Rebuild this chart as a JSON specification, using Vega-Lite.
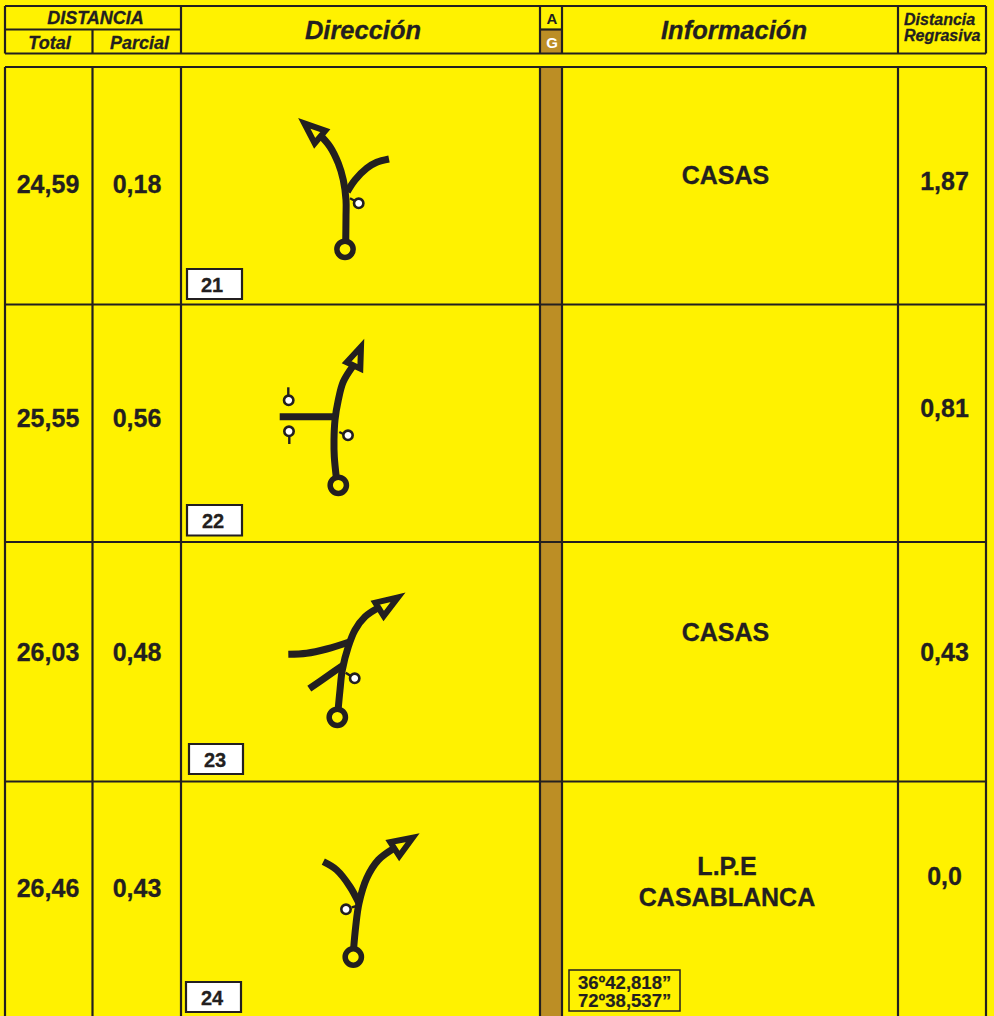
{
"$schema":"https://vega.github.io/schema/vega-lite/v6.json",
"width":994,"height":1016,"padding":0,
"autosize":"none",
"background":"#FFF200",
"config":{"view":{"stroke":null},"font":"Liberation Sans"},
"datasets":{
"bands":[{"x":540,"x2":562,"y":30,"y2":53},{"x":540,"x2":562,"y":67,"y2":1016}],
"grid":[
{"x":5,"x2":986,"y":6,"y2":6},{"x":5,"x2":986,"y":53.5,"y2":53.5},{"x":5,"x2":181,"y":29.5,"y2":29.5},{"x":540,"x2":562,"y":29.5,"y2":29.5},
{"x":5,"x2":5,"y":6,"y2":53.5},{"x":92.5,"x2":92.5,"y":29.5,"y2":53.5},{"x":181,"x2":181,"y":6,"y2":53.5},{"x":540,"x2":540,"y":6,"y2":53.5},{"x":562,"x2":562,"y":6,"y2":53.5},{"x":898,"x2":898,"y":6,"y2":53.5},{"x":986,"x2":986,"y":6,"y2":53.5},
{"x":5,"x2":986,"y":67,"y2":67},{"x":5,"x2":986,"y":304.5,"y2":304.5},{"x":5,"x2":986,"y":542,"y2":542},{"x":5,"x2":986,"y":781.5,"y2":781.5},
{"x":5,"x2":5,"y":67,"y2":1016},{"x":92.5,"x2":92.5,"y":67,"y2":1016},{"x":181,"x2":181,"y":67,"y2":1016},{"x":540,"x2":540,"y":67,"y2":1016},{"x":562,"x2":562,"y":67,"y2":1016},{"x":898,"x2":898,"y":67,"y2":1016},{"x":986,"x2":986,"y":67,"y2":1016}
],
"numberBoxes":[{"x":187,"x2":242,"y":269,"y2":299},{"x":187,"x2":242,"y":505,"y2":535.5},{"x":189,"x2":243,"y":744,"y2":774},{"x":186,"x2":241,"y":982,"y2":1012}],
"coordBox":[{"x":569,"x2":680,"y":970,"y2":1011}],
"roads":[
{"id":"r1m","i":0,"x":345.7,"y":243},{"id":"r1m","i":1,"x":346,"y":216.7},{"id":"r1m","i":2,"x":346,"y":200},{"id":"r1m","i":3,"x":343.3,"y":180},{"id":"r1m","i":4,"x":338.3,"y":163.3},{"id":"r1m","i":5,"x":330,"y":146.7},{"id":"r1m","i":6,"x":320,"y":135},
{"id":"r1b","i":0,"x":347.3,"y":191.7},{"id":"r1b","i":1,"x":355,"y":180},{"id":"r1b","i":2,"x":366.7,"y":168.3},{"id":"r1b","i":3,"x":376.7,"y":162.3},{"id":"r1b","i":4,"x":389,"y":159},
{"id":"r2m","i":0,"x":336.5,"y":479},{"id":"r2m","i":1,"x":334.3,"y":456.7},{"id":"r2m","i":2,"x":334,"y":440},{"id":"r2m","i":3,"x":335,"y":420},{"id":"r2m","i":4,"x":338.3,"y":400},{"id":"r2m","i":5,"x":343.3,"y":381.7},{"id":"r2m","i":6,"x":353,"y":366},
{"id":"r2b","i":0,"x":279.7,"y":416.7},{"id":"r2b","i":1,"x":335,"y":416.7},
{"id":"r3m","i":0,"x":338,"y":711},{"id":"r3m","i":1,"x":340,"y":690},{"id":"r3m","i":2,"x":342.3,"y":670},{"id":"r3m","i":3,"x":348.3,"y":646.7},{"id":"r3m","i":4,"x":355,"y":630},{"id":"r3m","i":5,"x":365,"y":616.7},{"id":"r3m","i":6,"x":378,"y":608},
{"id":"r3a","i":0,"x":288.3,"y":654.3},{"id":"r3a","i":1,"x":306.7,"y":653.3},{"id":"r3a","i":2,"x":326.7,"y":649},{"id":"r3a","i":3,"x":350,"y":641.7},
{"id":"r3b","i":0,"x":309.3,"y":688.7},{"id":"r3b","i":1,"x":326.7,"y":676.7},{"id":"r3b","i":2,"x":343.3,"y":665},
{"id":"r4m","i":0,"x":353.5,"y":950},{"id":"r4m","i":1,"x":355.7,"y":926.7},{"id":"r4m","i":2,"x":359,"y":903.3},{"id":"r4m","i":3,"x":366.7,"y":878.3},{"id":"r4m","i":4,"x":378.3,"y":860},{"id":"r4m","i":5,"x":394.5,"y":848},
{"id":"r4b","i":0,"x":323.3,"y":861.7},{"id":"r4b","i":1,"x":336.7,"y":870},{"id":"r4b","i":2,"x":350,"y":886.7},{"id":"r4b","i":3,"x":359,"y":903.3}
],
"arrows":[
{"id":"a1","i":0,"x":304.3,"y":123.3},{"id":"a1","i":1,"x":325.3,"y":130.7},{"id":"a1","i":2,"x":314.7,"y":143.3},
{"id":"a2","i":0,"x":361,"y":346.7},{"id":"a2","i":1,"x":346.7,"y":362.3},{"id":"a2","i":2,"x":360.3,"y":368.7},
{"id":"a3","i":0,"x":398,"y":597.3},{"id":"a3","i":1,"x":375.3,"y":602.7},{"id":"a3","i":2,"x":383.7,"y":616},
{"id":"a4","i":0,"x":412.7,"y":837.7},{"id":"a4","i":1,"x":390.3,"y":842},{"id":"a4","i":2,"x":399.3,"y":856}
],
"stems":[
{"id":"s1","i":0,"x":350,"y":198.3},{"id":"s1","i":1,"x":355,"y":201},
{"id":"s2a","i":0,"x":288.3,"y":387.3},{"id":"s2a","i":1,"x":288.3,"y":396},
{"id":"s2b","i":0,"x":289.3,"y":436.7},{"id":"s2b","i":1,"x":289.3,"y":444},
{"id":"s2c","i":0,"x":339.3,"y":432},{"id":"s2c","i":1,"x":343.3,"y":434},
{"id":"s3","i":0,"x":345.7,"y":672.7},{"id":"s3","i":1,"x":350.7,"y":676},
{"id":"s4","i":0,"x":351.7,"y":907.3},{"id":"s4","i":1,"x":356.7,"y":906}
],
"starts":[{"x":345,"y":249.3},{"x":338.3,"y":485.3},{"x":337.3,"y":717.3},{"x":353.3,"y":957}],
"flags":[{"x":358.7,"y":203.3},{"x":288.7,"y":400.3},{"x":289,"y":431.3},{"x":348,"y":435.3},{"x":354.7,"y":678.3},{"x":346,"y":909.3}],
"big":[
{"t":"24,59","x":48,"y":193},{"t":"0,18","x":137,"y":193},{"t":"CASAS","x":725.5,"y":184},{"t":"1,87","x":944.5,"y":190},
{"t":"25,55","x":48,"y":427},{"t":"0,56","x":137,"y":427},{"t":"0,81","x":944.5,"y":417},
{"t":"26,03","x":48,"y":661},{"t":"0,48","x":137,"y":661},{"t":"CASAS","x":725.5,"y":641},{"t":"0,43","x":944.5,"y":661},
{"t":"26,46","x":48,"y":897},{"t":"0,43","x":137,"y":897},{"t":"L.P.E","x":727,"y":875},{"t":"CASABLANCA","x":727,"y":906},{"t":"0,0","x":944.5,"y":885}
],
"heads":[{"t":"Dirección","x":363,"y":39},{"t":"Información","x":734,"y":39}],
"subheads":[{"t":"DISTANCIA","x":95.5,"y":24},{"t":"Total","x":49.5,"y":49},{"t":"Parcial","x":139.5,"y":49}],
"regres":[{"t":"Distancia","x":904,"y":25},{"t":"Regrasiva","x":904,"y":41}],
"boxNums":[{"t":"21","x":212,"y":292},{"t":"22","x":213,"y":528},{"t":"23","x":215,"y":767},{"t":"24","x":212,"y":1005}],
"ag":[{"t":"A","x":552,"y":24,"c":"a"},{"t":"G","x":552,"y":48,"c":"g"}],
"coords":[{"t":"36º42,818”","x":578,"y":989},{"t":"72º38,537”","x":578,"y":1007}]
},
"encoding":{
"x":{"field":"x","type":"quantitative","axis":null,"scale":{"domain":[0,994],"nice":false,"zero":false}},
"y":{"field":"y","type":"quantitative","axis":null,"scale":{"domain":[1016,0],"nice":false,"zero":false}}
},
"layer":[
{"data":{"name":"bands"},"mark":{"type":"rect","fill":"#BC8E25"},"encoding":{"x2":{"field":"x2"},"y2":{"field":"y2"}}},
{"data":{"name":"grid"},"mark":{"type":"rule","stroke":"#231F20","strokeWidth":2.2},"encoding":{"x2":{"field":"x2"},"y2":{"field":"y2"}}},
{"data":{"name":"numberBoxes"},"mark":{"type":"rect","fill":"#FFFFFF","stroke":"#231F20","strokeWidth":2.2},"encoding":{"x2":{"field":"x2"},"y2":{"field":"y2"}}},
{"data":{"name":"coordBox"},"mark":{"type":"rect","fill":"#FFF200","stroke":"#231F20","strokeWidth":1.5},"encoding":{"x2":{"field":"x2"},"y2":{"field":"y2"}}},
{"data":{"name":"stems"},"mark":{"type":"line","stroke":"#231F20","strokeWidth":2.4},"encoding":{"detail":{"field":"id"},"order":{"field":"i"}}},
{"data":{"name":"roads"},"mark":{"type":"line","stroke":"#231F20","strokeWidth":7,"interpolate":"catmull-rom"},"encoding":{"detail":{"field":"id"},"order":{"field":"i"}}},
{"data":{"name":"arrows"},"mark":{"type":"line","stroke":"#231F20","strokeWidth":6,"interpolate":"linear-closed","strokeJoin":"miter","strokeMiterLimit":10},"encoding":{"detail":{"field":"id"},"order":{"field":"i"}}},
{"data":{"name":"starts"},"mark":{"type":"point","shape":"circle","size":265,"filled":true,"fill":"#FFF200","stroke":"#231F20","strokeWidth":5.5,"opacity":1}},
{"data":{"name":"flags"},"mark":{"type":"point","shape":"circle","size":88,"filled":true,"fill":"#FFFFFF","stroke":"#231F20","strokeWidth":2.6,"opacity":1}},
{"data":{"name":"big"},"mark":{"type":"text","font":"Liberation Sans","fontWeight":"bold","fontSize":25,"align":"center","baseline":"alphabetic","fill":"#231F20","stroke":"#231F20","strokeWidth":0.3},"encoding":{"text":{"field":"t"}}},
{"data":{"name":"heads"},"mark":{"type":"text","font":"Liberation Sans","fontWeight":"bold","fontStyle":"italic","fontSize":25.5,"align":"center","baseline":"alphabetic","fill":"#231F20","stroke":"#231F20","strokeWidth":0.3},"encoding":{"text":{"field":"t"}}},
{"data":{"name":"subheads"},"mark":{"type":"text","font":"Liberation Sans","fontWeight":"bold","fontStyle":"italic","fontSize":18,"align":"center","baseline":"alphabetic","fill":"#231F20","stroke":"#231F20","strokeWidth":0.3},"encoding":{"text":{"field":"t"}}},
{"data":{"name":"regres"},"mark":{"type":"text","font":"Liberation Sans","fontWeight":"bold","fontStyle":"italic","fontSize":16,"align":"left","baseline":"alphabetic","fill":"#231F20","stroke":"#231F20","strokeWidth":0.3},"encoding":{"text":{"field":"t"}}},
{"data":{"name":"boxNums"},"mark":{"type":"text","font":"Liberation Sans","fontWeight":"bold","fontSize":20,"align":"center","baseline":"alphabetic","fill":"#231F20","stroke":"#231F20","strokeWidth":0.3},"encoding":{"text":{"field":"t"}}},
{"data":{"name":"ag"},"transform":[{"filter":"datum.c==='a'"}],"mark":{"type":"text","font":"Liberation Sans","fontWeight":"bold","fontSize":15,"align":"center","baseline":"alphabetic","fill":"#231F20"},"encoding":{"text":{"field":"t"}}},
{"data":{"name":"ag"},"transform":[{"filter":"datum.c==='g'"}],"mark":{"type":"text","font":"Liberation Sans","fontWeight":"bold","fontSize":15,"align":"center","baseline":"alphabetic","fill":"#FFFFFF"},"encoding":{"text":{"field":"t"}}},
{"data":{"name":"coords"},"mark":{"type":"text","font":"Liberation Sans","fontWeight":"bold","fontSize":18.5,"align":"left","baseline":"alphabetic","fill":"#231F20","stroke":"#231F20","strokeWidth":0.2},"encoding":{"text":{"field":"t"}}}
]
}
